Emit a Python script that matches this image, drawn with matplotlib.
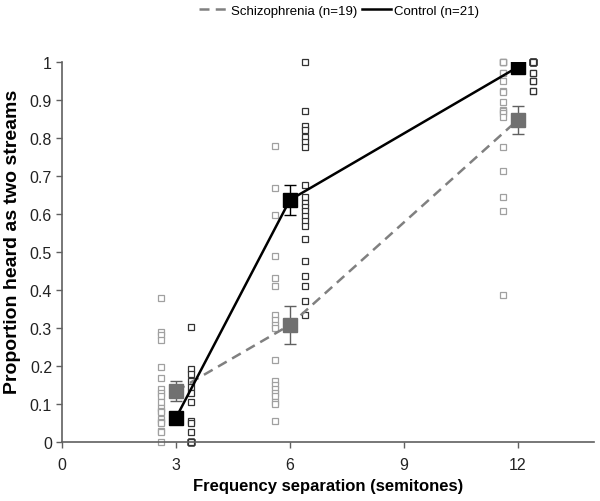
import matplotlib
matplotlib.use("Agg")
import matplotlib.pyplot as plt
import numpy as np

plt.rcParams['font.family'] = ['Liberation Sans', 'DejaVu Sans']

# frequency separations (semitones)
separations = [3, 6, 12]

# group means and standard errors
scz_mean = [0.134, 0.308, 0.848]
scz_err = [0.026, 0.050, 0.037]
ctl_mean = [0.063, 0.637, 0.987]
ctl_err = [0.014, 0.040, 0.004]

# individual subjects, per separation
scz_points = {
    3: [0.378, 0.290, 0.282, 0.268, 0.198, 0.168, 0.140, 0.129, 0.120, 0.106,
        0.090, 0.082, 0.080, 0.060, 0.053, 0.050, 0.030, 0.027, 0.0],
    6: [0.778, 0.668, 0.597, 0.489, 0.432, 0.411, 0.334, 0.320, 0.308, 0.300,
        0.215, 0.160, 0.150, 0.140, 0.130, 0.120, 0.105, 0.100, 0.055],
    12: [1.0, 1.0, 1.0, 1.0, 0.972, 0.970, 0.951, 0.924, 0.920, 0.894,
         0.874, 0.870, 0.866, 0.854, 0.776, 0.712, 0.644, 0.607, 0.387],
}
ctl_points = {
    3: [0.302, 0.192, 0.179, 0.160, 0.145, 0.129, 0.106, 0.055, 0.050, 0.027,
        0.0, 0.0, 0.0, 0.0, 0.0, 0.0, 0.0, 0.0, 0.0, 0.0, 0.0],
    6: [1.0, 0.870, 0.831, 0.821, 0.802, 0.789, 0.777, 0.677, 0.646, 0.630,
        0.618, 0.607, 0.596, 0.582, 0.569, 0.534, 0.476, 0.438, 0.411, 0.372, 0.334],
    12: [1.0] * 15 + [0.970, 0.970, 0.951, 0.951, 0.923, 0.923],
}

fig = plt.figure(figsize=(6, 5.02), dpi=100)
ax = fig.add_axes([0.103, 0.1175, 0.887, 0.757])

offset = 0.4
for s in separations:
    ax.plot([s - offset] * len(scz_points[s]), scz_points[s], 's', ms=4.2,
            mfc='white', mec='#a0a0a0', mew=0.9, zorder=2, clip_on=False)
    ax.plot([s + offset] * len(ctl_points[s]), ctl_points[s], 's', ms=4.2,
            mfc='white', mec='#333333', mew=0.9, zorder=2, clip_on=False)

ax.plot(separations, scz_mean, '--', color='#808080', lw=1.8, dashes=(4, 2.5),
        label='Schizophrenia (n=19)', zorder=3)
ax.plot(separations, ctl_mean, '-', color='black', lw=1.8,
        label='Control (n=21)', zorder=4)
ax.errorbar(separations, scz_mean, yerr=scz_err, fmt='s', ms=10, color='#707070',
            ecolor='#606060', elinewidth=1, capsize=4, capthick=1, zorder=5)
ax.errorbar(separations, ctl_mean, yerr=ctl_err, fmt='s', ms=10, color='black',
            ecolor='black', elinewidth=1, capsize=4, capthick=1, zorder=6)

ax.set_xlim(0, 14)
ax.set_ylim(0, 1)
ax.set_xticks([0, 3, 6, 9, 12])
ax.set_yticks(np.arange(0, 1.01, 0.1))
ax.set_yticklabels(['0', '0.1', '0.2', '0.3', '0.4', '0.5', '0.6', '0.7', '0.8', '0.9', '1'])
ax.spines['top'].set_visible(False)
ax.spines['right'].set_visible(False)
for sp in ['left', 'bottom']:
    ax.spines[sp].set_color('#606060')
    ax.spines[sp].set_linewidth(1.2)
ax.tick_params(axis='both', colors='#606060', labelcolor='#222222', labelsize=11.5,
               length=4, width=1)
ax.tick_params(axis='x', pad=7)
ax.tick_params(axis='y', pad=3)
ax.set_xlabel('Frequency separation (semitones)', fontsize=12, fontweight='bold', labelpad=4)
ax.set_ylabel('Proportion heard as two streams', fontsize=14, fontweight='bold')
ax.yaxis.set_label_coords(-0.077, 0.53)

fig.legend(loc='upper center', bbox_to_anchor=(0.565, 1.012), ncol=2, frameon=False,
           fontsize=9.5, handlelength=2.2, columnspacing=0.3, handletextpad=0.25)

fig.savefig('out.png', dpi=100)
